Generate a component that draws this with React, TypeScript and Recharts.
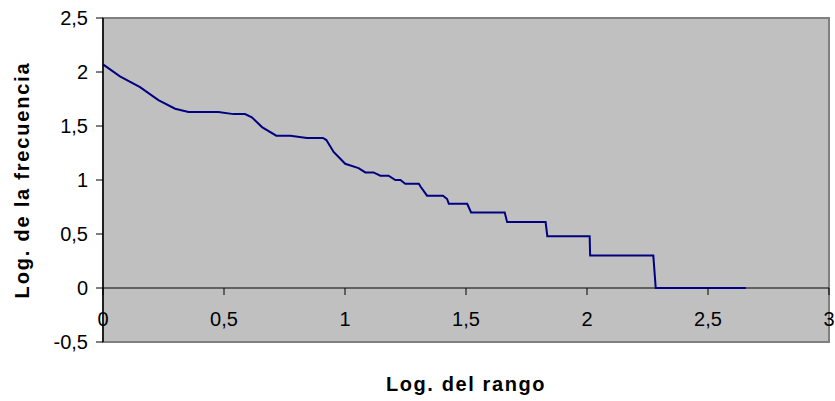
import { LineChart, Line, XAxis, YAxis, ReferenceArea, ReferenceLine } from 'recharts'

// log10(rango) vs log10(frecuencia)
const LOG_RANGO = [
  0, 0.07, 0.153, 0.229, 0.298, 0.353, 0.477, 0.539, 0.587, 0.615, 0.657, 0.716, 0.774, 0.843, 0.909, 0.923,
  0.953, 1.001, 1.056, 1.084, 1.118, 1.146, 1.18, 1.208, 1.229, 1.249, 1.305, 1.312, 1.339, 1.405, 1.422, 1.429,
  1.505, 1.521, 1.66, 1.67, 1.829, 1.836, 2.011, 2.013, 2.274, 2.284, 2.656,
]
const LOG_FRECUENCIA = [
  2.07, 1.96, 1.86, 1.74, 1.66, 1.63, 1.63, 1.61, 1.61, 1.58, 1.49, 1.41, 1.41, 1.39, 1.39, 1.37,
  1.26, 1.15, 1.11, 1.07, 1.07, 1.04, 1.04, 1.0, 1.0, 0.966, 0.966, 0.94, 0.855, 0.855, 0.824, 0.78,
  0.78, 0.7, 0.7, 0.61, 0.61, 0.48, 0.48, 0.3, 0.3, 0, 0,
]
const X_TICKS = [0, 0.5, 1, 1.5, 2, 2.5, 3]
const Y_TICKS = [-0.5, 0, 0.5, 1, 1.5, 2, 2.5]
const Y_MIN = -0.5
const Y_MAX = 2.5

const data = LOG_RANGO.map((x, i) => ({ x, y: LOG_FRECUENCIA[i] }))

const W = 835
const H = 401
const M = { top: 18, right: 6, bottom: 0, left: 0 }
const Y_AXIS_W = 103
const X_AXIS_H = 59
const PLOT_H = H - M.top - M.bottom - X_AXIS_H
const FONT = '"Liberation Sans", Arial, sans-serif'
const TICK_FONT = 20

const fmt = (v: number) => String(v).replace('.', ',')

// x axis crosses at y = 0, so ticks and labels are moved up from the bottom edge
function XTick({ x, y, payload }: any) {
  const zeroY = y - (PLOT_H * (0 - Y_MIN)) / (Y_MAX - Y_MIN)
  return (
    <g>
      <line x1={x} x2={x} y1={zeroY} y2={zeroY + 7} stroke="#000" strokeWidth={1} />
      <text x={x} y={zeroY + 38} textAnchor="middle" fontSize={TICK_FONT} fontFamily={FONT} fill="#000">
        {fmt(payload.value)}
      </text>
    </g>
  )
}

export default function App() {
  return (
    <>
      <style>{'body{margin:0}'}</style>
      <LineChart width={W} height={H} data={data} margin={M}>
        <XAxis
          type="number"
          dataKey="x"
          domain={[0, 3]}
          ticks={X_TICKS}
          axisLine={false}
          tickLine={false}
          tickSize={0}
          tickMargin={0}
          height={X_AXIS_H}
          tick={<XTick />}
          interval={0}
          label={{
            content: ({ viewBox }: any) => (
              <text
                x={viewBox.x + viewBox.width / 2}
                y={391}
                textAnchor="middle"
                fontSize={20}
                fontWeight="bold"
                letterSpacing={1.6}
                fontFamily={FONT}
                fill="#000"
              >
                Log. del rango
              </text>
            ),
          }}
        />
        <YAxis
          type="number"
          domain={[Y_MIN, Y_MAX]}
          ticks={Y_TICKS}
          width={Y_AXIS_W}
          interval={0}
          axisLine={{ stroke: '#000', strokeWidth: 1.5 }}
          tickLine={{ stroke: '#000' }}
          tickSize={7}
          tickMargin={8}
          tickFormatter={fmt}
          tick={{ fontSize: TICK_FONT, fontFamily: FONT, fill: '#000' }}
          label={{
            content: ({ viewBox }: any) => (
              <text
                transform={`translate(29, ${viewBox.y + viewBox.height / 2}) rotate(-90)`}
                textAnchor="middle"
                fontSize={20}
                fontWeight="bold"
                letterSpacing={1.8}
                fontFamily={FONT}
                fill="#000"
              >
                Log. de la frecuencia
              </text>
            ),
          }}
        />
        <ReferenceArea
          x1={0}
          x2={3}
          y1={Y_MIN}
          y2={Y_MAX}
          fill="#C0C0C0"
          fillOpacity={1}
          stroke="#808080"
          strokeWidth={2}
        />
        <ReferenceLine y={0} stroke="#000" strokeWidth={1} />
        <Line
          type="linear"
          dataKey="y"
          stroke="#000080"
          strokeWidth={2}
          dot={false}
          isAnimationActive={false}
        />
      </LineChart>
    </>
  )
}
